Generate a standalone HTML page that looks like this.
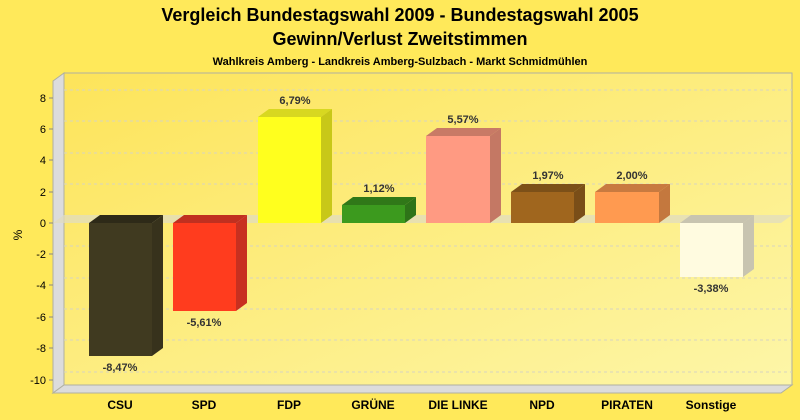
<!DOCTYPE html>
<html><head><meta charset="utf-8"><style>
html,body{margin:0;padding:0;background:#ffe95a;}
svg{display:block;font-family:"Liberation Sans",Arial,sans-serif;}
</style></head><body>
<svg width="800" height="420" viewBox="0 0 800 420" xmlns="http://www.w3.org/2000/svg">
<defs>
<linearGradient id="bg" x1="0" y1="0" x2="1" y2="1">
<stop offset="0" stop-color="#fde45a"/><stop offset="1" stop-color="#fdf6a8"/>
</linearGradient>
</defs>
<rect width="800" height="420" fill="#ffe95a"/>
<text x="400" y="21" font-size="18" font-weight="bold" text-anchor="middle">Vergleich Bundestagswahl 2009 - Bundestagswahl 2005</text>
<text x="400" y="45" font-size="18" font-weight="bold" text-anchor="middle">Gewinn/Verlust Zweitstimmen</text>
<text x="400" y="65" font-size="11" font-weight="bold" text-anchor="middle">Wahlkreis Amberg - Landkreis Amberg-Sulzbach - Markt Schmidmühlen</text>
<rect x="64" y="73" width="728" height="312" fill="url(#bg)" stroke="#b0b0a0" stroke-width="1"/>
<polygon points="53,81 64,73 64,385 53,393" fill="#dcdcdc" stroke="#b0b0a0"/>
<polygon points="53,393 64,385 792,385 781,393" fill="#dcdcdc" stroke="#b0b0a0"/>
<g stroke="#d8d4c0" stroke-dasharray="3,3" stroke-width="1">
<line x1="64" x2="792" y1="90" y2="90"/><line x1="64" x2="792" y1="121" y2="121"/>
<line x1="64" x2="792" y1="153" y2="153"/><line x1="64" x2="792" y1="184" y2="184"/>
<line x1="64" x2="792" y1="246" y2="246"/><line x1="64" x2="792" y1="278" y2="278"/>
<line x1="64" x2="792" y1="309" y2="309"/><line x1="64" x2="792" y1="340" y2="340"/>
<line x1="64" x2="792" y1="372" y2="372"/>
</g>
<g font-size="11" text-anchor="end">
<text x="46" y="102">8</text><text x="46" y="133">6</text><text x="46" y="164">4</text>
<text x="46" y="196">2</text><text x="46" y="227">0</text><text x="46" y="258">-2</text>
<text x="46" y="289">-4</text><text x="46" y="321">-6</text><text x="46" y="352">-8</text>
<text x="46" y="384">-10</text>
</g>
<g stroke="#888" stroke-width="1">
<line x1="49" x2="53" y1="98" y2="98"/><line x1="49" x2="53" y1="129" y2="129"/><line x1="49" x2="53" y1="160" y2="160"/>
<line x1="49" x2="53" y1="192" y2="192"/><line x1="49" x2="53" y1="223" y2="223"/><line x1="49" x2="53" y1="254" y2="254"/>
<line x1="49" x2="53" y1="285" y2="285"/><line x1="49" x2="53" y1="317" y2="317"/><line x1="49" x2="53" y1="348" y2="348"/>
<line x1="49" x2="53" y1="380" y2="380"/>
</g>
<text x="22" y="235" font-size="12" transform="rotate(-90 22 235)" text-anchor="middle">%</text>
<polygon points="53,223 64,215 792,215 781,223" fill="#e0dcc0" opacity="0.75"/>
<polygon points="89,223 100,215 163,215 152,223" fill="#2e2a18"/>
<rect x="89" y="223" width="63" height="133" fill="#403a20"/>
<polygon points="152,223 163,215 163,348 152,356" fill="#37321c"/>
<polygon points="173,223 184,215 247,215 236,223" fill="#c03020"/>
<rect x="173" y="223" width="63" height="88" fill="#ff3c1e"/>
<polygon points="236,223 247,215 247,303 236,311" fill="#c83020"/>
<rect x="258" y="117" width="63" height="106" fill="#ffff1e"/>
<polygon points="258,117 269,109 332,109 321,117" fill="#d8d820"/>
<polygon points="321,117 332,109 332,215 321,223" fill="#c8c818"/>
<rect x="342" y="205" width="63" height="18" fill="#3c9a1e"/>
<polygon points="342,205 353,197 416,197 405,205" fill="#307818"/>
<polygon points="405,205 416,197 416,215 405,223" fill="#2e7418"/>
<rect x="426" y="136" width="64" height="87" fill="#ff9a82"/>
<polygon points="426,136 437,128 501,128 490,136" fill="#c87a66"/>
<polygon points="490,136 501,128 501,215 490,223" fill="#c47864"/>
<rect x="511" y="192" width="63" height="31" fill="#a0661e"/>
<polygon points="511,192 522,184 585,184 574,192" fill="#7c5018"/>
<polygon points="574,192 585,184 585,215 574,223" fill="#7a4e18"/>
<rect x="595" y="192" width="64" height="31" fill="#ff9a50"/>
<polygon points="595,192 606,184 670,184 659,192" fill="#c87a40"/>
<polygon points="659,192 670,184 670,215 659,223" fill="#c4783e"/>
<polygon points="680,223 691,215 754,215 743,223" fill="#c8c4b0"/>
<rect x="680" y="223" width="63" height="54" fill="#fffbe0"/>
<polygon points="743,223 754,215 754,269 743,277" fill="#c8c4b0"/>
<g font-size="11" font-weight="bold" fill="#333" text-anchor="middle">
<text x="120" y="371">-8,47%</text>
<text x="204" y="326">-5,61%</text>
<text x="295" y="104">6,79%</text>
<text x="379" y="192">1,12%</text>
<text x="463" y="123">5,57%</text>
<text x="548" y="179">1,97%</text>
<text x="632" y="179">2,00%</text>
<text x="711" y="292">-3,38%</text>
</g>
<g font-size="12" font-weight="bold" text-anchor="middle">
<text x="120" y="409">CSU</text><text x="204" y="409">SPD</text><text x="289" y="409">FDP</text>
<text x="373" y="409">GRÜNE</text><text x="458" y="409">DIE LINKE</text><text x="542" y="409">NPD</text>
<text x="627" y="409">PIRATEN</text><text x="711" y="409">Sonstige</text>
</g>
</svg>
</body></html>
